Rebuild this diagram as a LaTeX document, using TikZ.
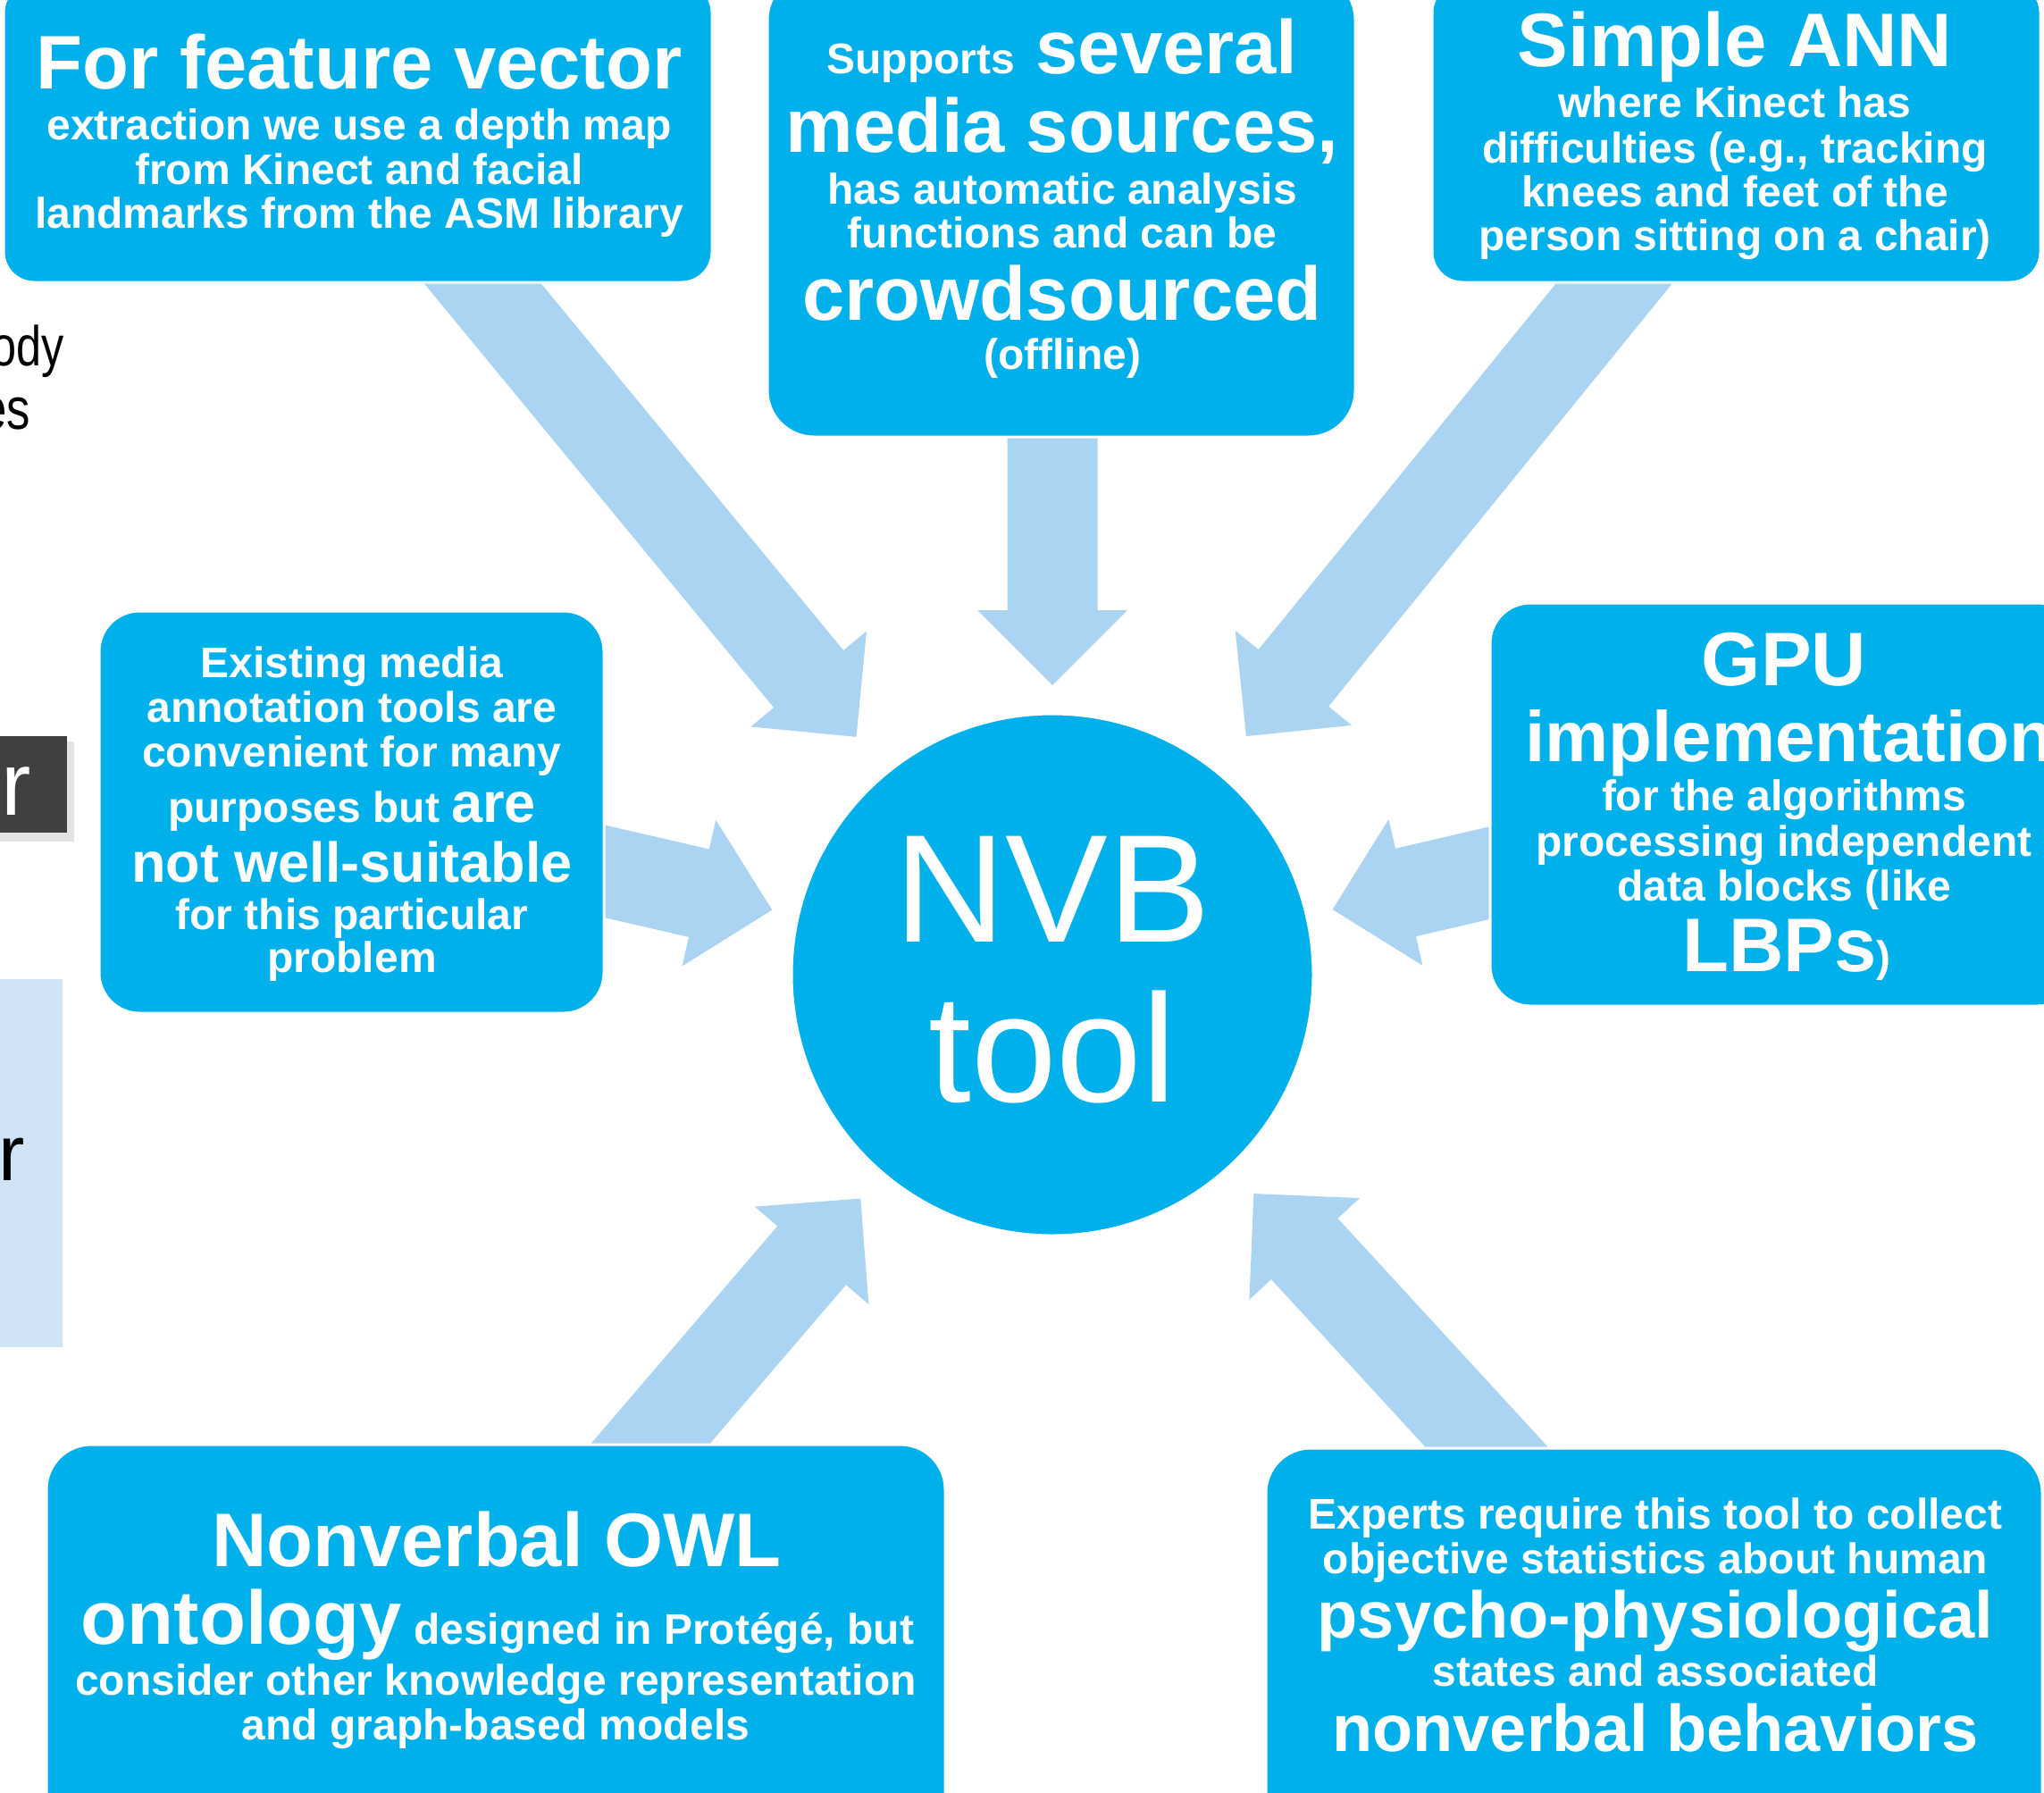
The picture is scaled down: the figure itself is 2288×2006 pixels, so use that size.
\documentclass[tikz,border=0pt]{standalone}
\usepackage{fontspec}
\setmainfont{Liberation Sans}
\usetikzlibrary{calc}
\definecolor{boxblue}{HTML}{00B0EA}
\definecolor{arrblue}{HTML}{ABD4F2}
\definecolor{darkgr}{HTML}{404040}
\definecolor{shadowgr}{HTML}{E3E3E3}
\definecolor{paleblue}{HTML}{D0E4F5}
\pgfdeclarelayer{paper}
\pgfdeclarelayer{arrowlayer}
\pgfsetlayers{paper,arrowlayer,main}
\newcommand\fz[1]{\fontsize{#1}{#1}\selectfont}
% block arrow pointing at the NVB circle: #1 rotation, #2 tip distance, #3 tail distance
\newcommand\blockarr[3]{%
  \begin{scope}[shift={(nvb.center)},rotate=#1]
    \fill[arrblue] (#2,0) -- (#2+84,84) -- (#2+84,50.5) -- (#3,50.5)
      -- (#3,-50.5) -- (#2+84,-50.5) -- (#2+84,-84) -- cycle;
  \end{scope}}
\tikzset{
  bx/.style={rectangle, fill=boxblue, draw=white, line width=3pt,
    inner sep=0pt, outer sep=0pt, rounded corners=#1},
  ln/.style={anchor=base, inner sep=0pt, text=white, font=\bfseries},
  side/.style={anchor=base east, inner sep=0pt, text=black}
}
\begin{document}
\begin{tikzpicture}[x=1pt,y=-1pt]
\useasboundingbox (0,0) rectangle (2288,2006);
\begin{pgfonlayer}{paper}
  \fill[white] (0,0) rectangle (2288,2006);
\end{pgfonlayer}

% ---- left edge remnants ----
\node[side] (bodytxt) at (72,409) {\scalebox{0.8}[1]{\fz{63}body}};
\node[side] (estxt) at (34,480) {\scalebox{0.8}[1]{\fz{66}es}};
\fill[shadowgr] (0,830) rectangle (83,942);
\fill[darkgr] (-10,824) rectangle (75,932);
\node[side, text=white] (ortxta) at (35,912) {\fz{100}or};
\fill[paleblue] (-10,1096) rectangle (70,1508);
\node[side] (ortxtb) at (28,1321) {\fz{88}or};

% ---- centre circle ----
\node[circle, fill=boxblue, draw=white, line width=3pt, minimum size=584pt,
  inner sep=0pt] (nvb) at (1178,1091) {};
\node[anchor=base, inner sep=0pt, text=white] (nvbA) at (1178,1054) {\fz{172}NVB};
\node[anchor=base, inner sep=0pt, text=white] (nvbB) at (1178,1233) {\fz{172}tool};

% ---- boxes ----
\node[bx=34pt, minimum width=793pt, minimum height=336pt] (tlbox) at (400.5,148) {};
\node[bx=52pt, minimum width=658pt, minimum height=519pt] (tcbox) at (1188,229.5) {};
\node[bx=34pt, minimum width=681pt, minimum height=336pt] (trbox) at (1943.5,148) {};
\node[bx=45pt, minimum width=565pt, minimum height=450pt] (mlbox) at (393.5,909) {};
\node[bx=45pt, minimum width=658pt, minimum height=451pt] (mrbox) at (1997,900.5) {};
\node[bx=50pt, minimum width=1006pt, minimum height=443pt] (blbox) at (555,1838.5) {};
\node[bx=50pt, minimum width=869pt, minimum height=439pt] (brbox) at (1851.5,1840.5) {};

% ---- arrows (behind boxes) ----
\begin{pgfonlayer}{arrowlayer}
  \blockarr{129.5}{345}{1080}
  \blockarr{90}{324}{640}
  \blockarr{50.9}{344}{1080}
  \blockarr{167}{322}{560}
  \blockarr{13.1}{322}{560}
  \blockarr{-130.6}{330}{800}
  \blockarr{-47.4}{333}{800}
\end{pgfonlayer}

% ---- top-left text ----
\node[ln] (tla) at (402,99)  {\fz{85}For feature vector};
\node[ln] (tlb) at (402,156) {\fz{48}extraction we use a depth map};
\node[ln] (tlc) at (402,206) {\fz{48}from Kinect and facial};
\node[ln] (tld) at (402,255) {\fz{48}landmarks from the ASM library};

% ---- top-centre text ----
\node[ln] (tca) at (1189,82)  {{\fz{48}Supports}{\fz{85} several}};
\node[ln] (tcb) at (1189,170) {\fz{85}media sources,};
\node[ln] (tcc) at (1189,228) {\fz{48}has automatic analysis};
\node[ln] (tcd) at (1189,277) {\fz{48}functions and can be};
\node[ln] (tce) at (1189,358) {\fz{85}crowdsourced};
\node[ln] (tcf) at (1189,413) {\fz{48}(offline)};

% ---- top-right text ----
\node[ln] (tra) at (1942,74)  {\fz{85}Simple ANN};
\node[ln] (trb) at (1942,131) {\fz{48}where Kinect has};
\node[ln] (trc) at (1942,182) {\fz{48}difficulties (e.g., tracking};
\node[ln] (trd) at (1942,231) {\fz{48}knees and feet of the};
\node[ln] (tre) at (1942,280) {\fz{48}person sitting on a chair)};

% ---- middle-left text ----
\node[ln] (mla) at (394,758)  {\fz{48}Existing media};
\node[ln] (mlb) at (394,808)  {\fz{48}annotation tools are};
\node[ln] (mlc) at (394,858)  {\fz{48}convenient for many};
\node[ln] (mld) at (394,920)  {{\fz{48}purposes but }{\fz{63}are}};
\node[ln] (mle) at (394,987)  {\fz{63}not well-suitable};
\node[ln] (mlf) at (394,1040) {\fz{48}for this particular};
\node[ln] (mlg) at (394,1088) {\fz{48}problem};

% ---- middle-right text ----
\node[ln] (mra) at (1997,767)  {\fz{85}GPU};
\node[ln] (mrb) at (2003,852)  {\fz{80}implementation};
\node[ln] (mrc) at (1997,907)  {\fz{48}for the algorithms};
\node[ln] (mrd) at (1997,958)  {\fz{48}processing independent};
\node[ln] (mre) at (1997,1008) {\fz{48}data blocks (like};
\node[ln] (mrf) at (2000,1087) {{\fz{85}LBPs}{\fz{48})}};

% ---- bottom-left text ----
\node[ln] (bla) at (556,1753) {\fz{85}Nonverbal OWL};
\node[ln] (blb) at (557,1840) {{\fz{85}ontology}{\fz{48} designed in Protégé, but}};
\node[ln] (blc) at (555,1897) {\fz{48}consider other knowledge representation};
\node[ln] (bld) at (555,1947) {\fz{48}and graph-based models};

% ---- bottom-right text ----
\node[ln] (bra) at (1853,1711) {\fz{48}Experts require this tool to collect};
\node[ln] (brb) at (1853,1761) {\fz{48}objective statistics about human};
\node[ln] (brc) at (1853,1833) {\fz{74}psycho-physiological};
\node[ln] (brd) at (1853,1887) {\fz{48}states and associated};
\node[ln] (bre) at (1853,1960) {\fz{74}nonverbal behaviors};
\end{tikzpicture}
\end{document}
